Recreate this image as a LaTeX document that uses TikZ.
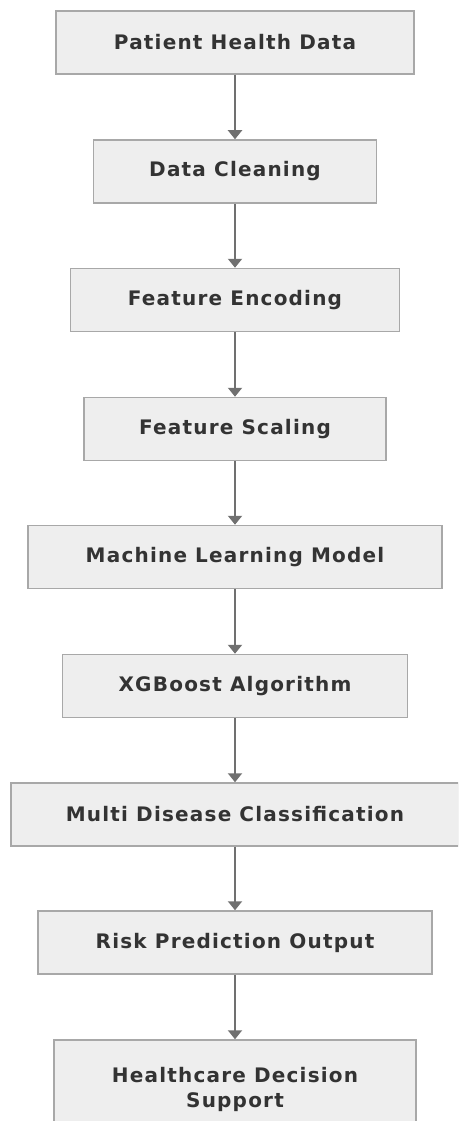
\documentclass[tikz,border=0pt]{standalone}
\usepackage{fontspec}
\setmainfont{DejaVu Sans}[LetterSpace=6,BoldFont={DejaVu Sans Bold}]
\usetikzlibrary{arrows.meta}
\definecolor{boxfill}{HTML}{EEEEEE}
\definecolor{boxline}{HTML}{A8A8A8}
\definecolor{arrline}{HTML}{707070}
\definecolor{txt}{HTML}{333333}

\begin{document}
\begin{tikzpicture}[x=1pt,y=-1pt,
 blk/.style={draw=boxline,fill=boxfill,line width=1.5pt,minimum height=63pt,inner sep=0pt,
  text=txt,font=\fontsize{20}{25}\selectfont\bfseries,align=center},
 flow/.style={draw=arrline,line width=2pt,-{Triangle[width=14pt,length=9pt]}}]
 \clip(0,0) rectangle (458,1121);   % the last box runs off the page
 \node[blk,minimum width=358pt](pat) at (235,42.5){Patient Health Data};
 \node[blk,minimum width=283pt](cln) at (235,171.5){Data Cleaning};
 \node[blk,minimum width=329pt](enc) at (235,300){Feature Encoding};
 \node[blk,minimum width=302pt](scl) at (235,429){Feature Scaling};
 \node[blk,minimum width=414pt](mdl) at (235,557){Machine Learning Model};
 \node[blk,minimum width=345pt](xgb) at (235,686){XGBoost Algorithm};
 \node[blk,minimum width=448pt](cls) at (235,814.5){Multi Disease Classification};
 \node[blk,minimum width=394pt](rsk) at (235,942.5){Risk Prediction Output};
 \node[blk,minimum width=362pt,minimum height=99pt](dec) at (235,1089.5){Healthcare Decision\\Support};
 \draw[flow](pat)--(cln);
 \draw[flow](cln)--(enc);
 \draw[flow](enc)--(scl);
 \draw[flow](scl)--(mdl);
 \draw[flow](mdl)--(xgb);
 \draw[flow](xgb)--(cls);
 \draw[flow](cls)--(rsk);
 \draw[flow](rsk)--(dec);
\end{tikzpicture}
\end{document}
